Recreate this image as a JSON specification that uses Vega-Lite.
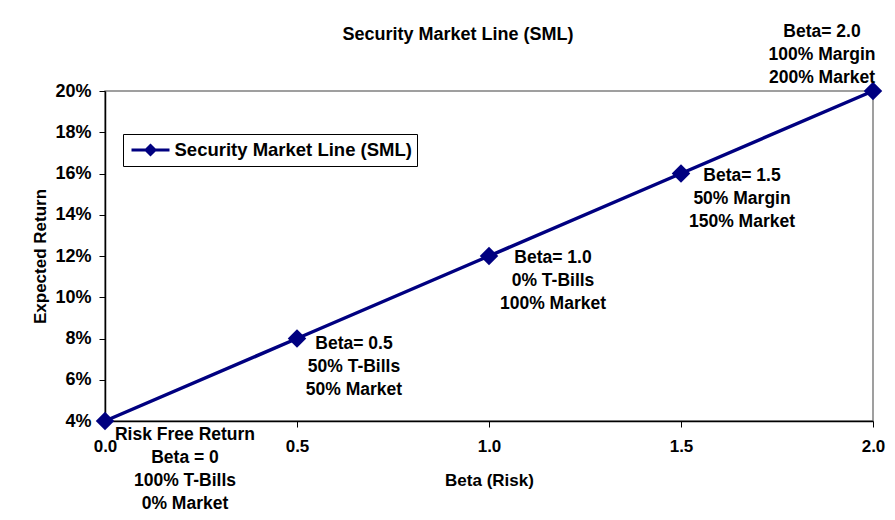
{
  "$schema": "https://vega.github.io/schema/vega-lite/v6.json",
  "autosize": {"type": "none"},
  "width": 768,
  "height": 330,
  "padding": {"left": 105, "top": 91, "right": 22, "bottom": 99},
  "background": "white",
  "config": {
    "font": "Liberation Sans",
    "view": {"stroke": "#808080", "strokeWidth": 1.5},
    "axis": {
      "grid": false,
      "domainColor": "black",
      "domainWidth": 1.5,
      "tickColor": "black",
      "tickSize": 6,
      "labelFont": "Liberation Sans",
      "labelFontWeight": "bold",
      "labelColor": "black",
      "titleFont": "Liberation Sans",
      "titleFontWeight": "bold",
      "titleColor": "black"
    }
  },
  "title": {
    "text": "Security Market Line (SML)",
    "fontSize": 18,
    "fontWeight": "bold",
    "font": "Liberation Sans",
    "color": "black",
    "anchor": "middle",
    "frame": "group",
    "dx": -31,
    "offset": -21
  },
  "data": {
    "values": [
      {"beta": 0.0, "ret": 0.04, "series": "Security Market Line (SML)", "label": ["Risk Free Return", "Beta = 0", "100% T-Bills", "0% Market"]},
      {"beta": 0.5, "ret": 0.08, "series": "Security Market Line (SML)", "label": ["Beta= 0.5", "50% T-Bills", "50% Market"]},
      {"beta": 1.0, "ret": 0.12, "series": "Security Market Line (SML)", "label": ["Beta= 1.0", "0% T-Bills", "100% Market"]},
      {"beta": 1.5, "ret": 0.16, "series": "Security Market Line (SML)", "label": ["Beta= 1.5", "50% Margin", "150% Market"]},
      {"beta": 2.0, "ret": 0.20, "series": "Security Market Line (SML)", "label": ["Beta= 2.0", "100% Margin", "200% Market"]}
    ]
  },
  "encoding": {
    "x": {
      "field": "beta", "type": "quantitative",
      "scale": {"domain": [0, 2], "nice": false, "zero": false},
      "axis": {"values": [0, 0.5, 1, 1.5, 2], "format": ".1f", "title": "Beta (Risk)", "labelFontSize": 17, "titleFontSize": 17, "labelPadding": 11, "titlePadding": 18, "labelFlush": false}
    },
    "y": {
      "field": "ret", "type": "quantitative",
      "scale": {"domain": [0.04, 0.2], "nice": false, "zero": false},
      "axis": {"values": [0.04, 0.06, 0.08, 0.1, 0.12, 0.14, 0.16, 0.18, 0.2], "format": ".0%", "title": "Expected Return", "labelFontSize": 18, "titleFontSize": 17, "labelPadding": 8, "titlePadding": 5, "labelFlush": false}
    }
  },
  "layer": [
    {
      "mark": {"type": "line", "strokeWidth": 3.5},
      "encoding": {
        "color": {
          "field": "series", "type": "nominal",
          "scale": {"range": ["#000080"]},
          "legend": {
            "title": null,
            "orient": "none",
            "legendX": 18,
            "legendY": 43,
            "padding": 5,
            "strokeColor": "black",
            "fillColor": "white",
            "labelFontSize": 18.5,
            "labelFontWeight": "bold",
            "labelColor": "black",
            "labelFont": "Liberation Sans",
            "labelLimit": 400,
            "symbolType": "M-2,0H2M-0.47,0L0,-0.47L0.47,0L0,0.47Z",
            "symbolSize": 361,
            "symbolOffset": 11.5,
            "labelOffset": 13,
            "symbolStrokeWidth": 3,
            "symbolFillColor": "#000080",
            "symbolStrokeColor": "#000080",
            "encode": {
              "symbols": {"update": {"fill": {"value": "#000080"}, "stroke": {"value": "#000080"}, "strokeWidth": {"value": 3}, "opacity": {"value": 1}}}
            }
          }
        }
      }
    },
    {
      "mark": {"type": "point", "shape": "diamond", "filled": true, "size": 340, "color": "#000080", "opacity": 1}
    },
    {
      "transform": [{"filter": "datum.beta == 0"}],
      "mark": {"type": "text", "align": "center", "baseline": "alphabetic", "dx": 80, "dy": 19, "fontSize": 17.5, "fontWeight": "bold", "lineHeight": 23, "color": "black", "font": "Liberation Sans"},
      "encoding": {"text": {"field": "label"}}
    },
    {
      "transform": [{"filter": "datum.beta == 0.5"}],
      "mark": {"type": "text", "align": "center", "baseline": "alphabetic", "dx": 57, "dy": 10, "fontSize": 17.5, "fontWeight": "bold", "lineHeight": 23, "color": "black", "font": "Liberation Sans"},
      "encoding": {"text": {"field": "label"}}
    },
    {
      "transform": [{"filter": "datum.beta == 1"}],
      "mark": {"type": "text", "align": "center", "baseline": "alphabetic", "dx": 64, "dy": 7, "fontSize": 17.5, "fontWeight": "bold", "lineHeight": 23, "color": "black", "font": "Liberation Sans"},
      "encoding": {"text": {"field": "label"}}
    },
    {
      "transform": [{"filter": "datum.beta == 1.5"}],
      "mark": {"type": "text", "align": "center", "baseline": "alphabetic", "dx": 61, "dy": 7, "fontSize": 17.5, "fontWeight": "bold", "lineHeight": 23, "color": "black", "font": "Liberation Sans"},
      "encoding": {"text": {"field": "label"}}
    },
    {
      "transform": [{"filter": "datum.beta == 2"}],
      "mark": {"type": "text", "align": "center", "baseline": "alphabetic", "dx": -51, "dy": -54, "fontSize": 17.5, "fontWeight": "bold", "lineHeight": 23, "color": "black", "font": "Liberation Sans"},
      "encoding": {"text": {"field": "label"}}
    }
  ]
}
